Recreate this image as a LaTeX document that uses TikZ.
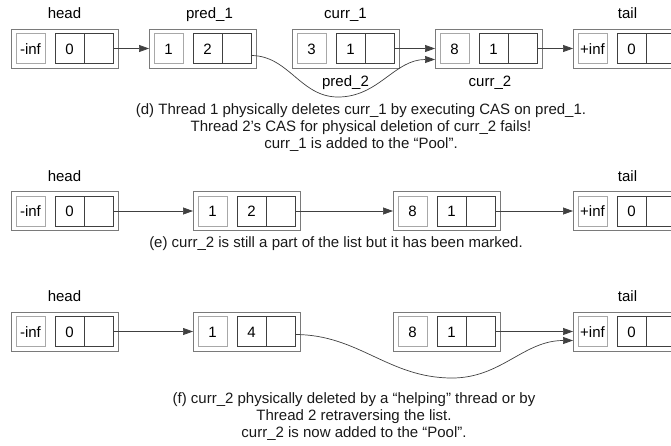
\documentclass[tikz,border=0pt]{standalone}
\usepackage{fontspec}
\setmainfont{Liberation Sans}
\usetikzlibrary{positioning,arrows.meta}
\definecolor{boxgray}{HTML}{7A7A7A}
\definecolor{keygray}{HTML}{A8A8A8}
\definecolor{celldark}{HTML}{404040}
\def\cellsize{29pt}

% one list element: name, x, y, key, value
\newcommand{\listnode}[5]{%
  \node[outer box] (#1) at (#2,#3) {};
  \node[key cell, right=5pt of #1.west] (#1-key) {#4};
  \node[val cell, right=10pt of #1-key] (#1-val) {#5};
  \node[val cell, right=0pt of #1-val] (#1-ptr) {};
}

\begin{document}
\begin{tikzpicture}[x=1pt, y=-1pt, font=\fontsize{15}{17}\selectfont, every label/.append style={inner sep=0pt, text height=11pt, text depth=3pt, label distance=3.5pt}]
    \tikzstyle{outer box}=[draw=boxgray, anchor=west, minimum width=107pt, minimum height=39pt, outer sep=0pt, inner sep=0pt]
    \tikzstyle{cell}=[minimum width=\cellsize, minimum height=30pt, inner sep=0pt, outer sep=0pt, text height=11pt, text depth=0pt]
    \tikzstyle{key cell}=[cell, draw=keygray]
    \tikzstyle{val cell}=[cell, draw=celldark]
    \tikzstyle{link}=[draw=celldark, line width=0.7pt, -{Triangle[length=10pt,width=7pt]}]
    \tikzstyle{caption}=[align=center, text=black!90]

    \useasboundingbox (0,0) rectangle (671,445);

    % Row (d)
    \listnode{d-head}{11}{48.5}{-inf}{0}
    \listnode{d-pred1}{149}{48.5}{1}{2}
    \listnode{d-curr1}{292}{48.5}{3}{1}
    \listnode{d-curr2}{435}{48.5}{8}{1}
    \listnode{d-tail}{573}{48.5}{+inf}{0}
    \node[label=above:head] at (d-head.north) {};
    \node[label={[xshift=7pt]above:pred\_1}] at (d-pred1.north) {};
    \node[label=above:curr\_1] at (d-curr1.north) {};
    \node[label={[xshift=1pt]above:tail}] at (d-tail.north) {};
    \node[label=below:pred\_2] at (d-curr1.south) {};
    \node[label={[xshift=1.5pt]below:curr\_2}] at (d-curr2.south) {};

    \draw[link] (d-head-ptr.east) -- (d-pred1.west);
    \draw[link] (d-curr1-ptr.east) -- (d-curr2.west);
    \draw[link] (d-curr2-ptr.east) -- (d-tail.west);
    \coordinate (d-dip) at (338,97);
    \draw[link] ([yshift=-7pt]d-pred1-ptr.east) to[out=0,in=180] (d-dip)
        to[out=0,in=180] ([yshift=-11pt]d-curr2.west);

    \node[caption] (d-text) at (361,128) {(d) Thread 1 physically deletes curr\_1 by executing CAS on pred\_1.\\
        Thread 2's CAS for physical deletion of curr\_2 fails!\\
        curr\_1 is added to the “Pool”.};

    % Rows (e) and (f) share the same layout
    \foreach \row/\y/\pv in {e/211/2, f/331.5/4} {
        \listnode{\row-head}{11}{\y}{-inf}{0}
        \listnode{\row-pred}{193}{\y}{1}{\pv}
        \listnode{\row-curr}{393}{\y}{8}{1}
        \listnode{\row-tail}{573}{\y}{+inf}{0}
        \node[label=above:head] at (\row-head.north) {};
        \node[label={[xshift=1pt]above:tail}] at (\row-tail.north) {};
        \draw[link] (\row-head-ptr.east) -- (\row-pred.west);
        \draw[link] (\row-curr-ptr.east) -- (\row-tail.west);
    }

    % (e): curr_2 still linked
    \draw[link] (e-pred-ptr.east) -- (e-curr.west);
    \node[caption] (e-text) at (336,244) {(e) curr\_2 is still a part of the list but it has been marked.};

    % (f): pred_1 now skips curr_2
    \coordinate (f-dip) at (452,378);
    \draw[link] ([yshift=-3pt]f-pred-ptr.east) to[out=0,in=180] (f-dip)
        to[out=0,in=180] ([yshift=-9pt]f-tail.west);
    \node[caption] (f-text) at (354,417) {(f) curr\_2 physically deleted by a “helping” thread or by\\
        Thread 2 retraversing the list.\\
        curr\_2 is now added to the “Pool”.};
\end{tikzpicture}
\end{document}
